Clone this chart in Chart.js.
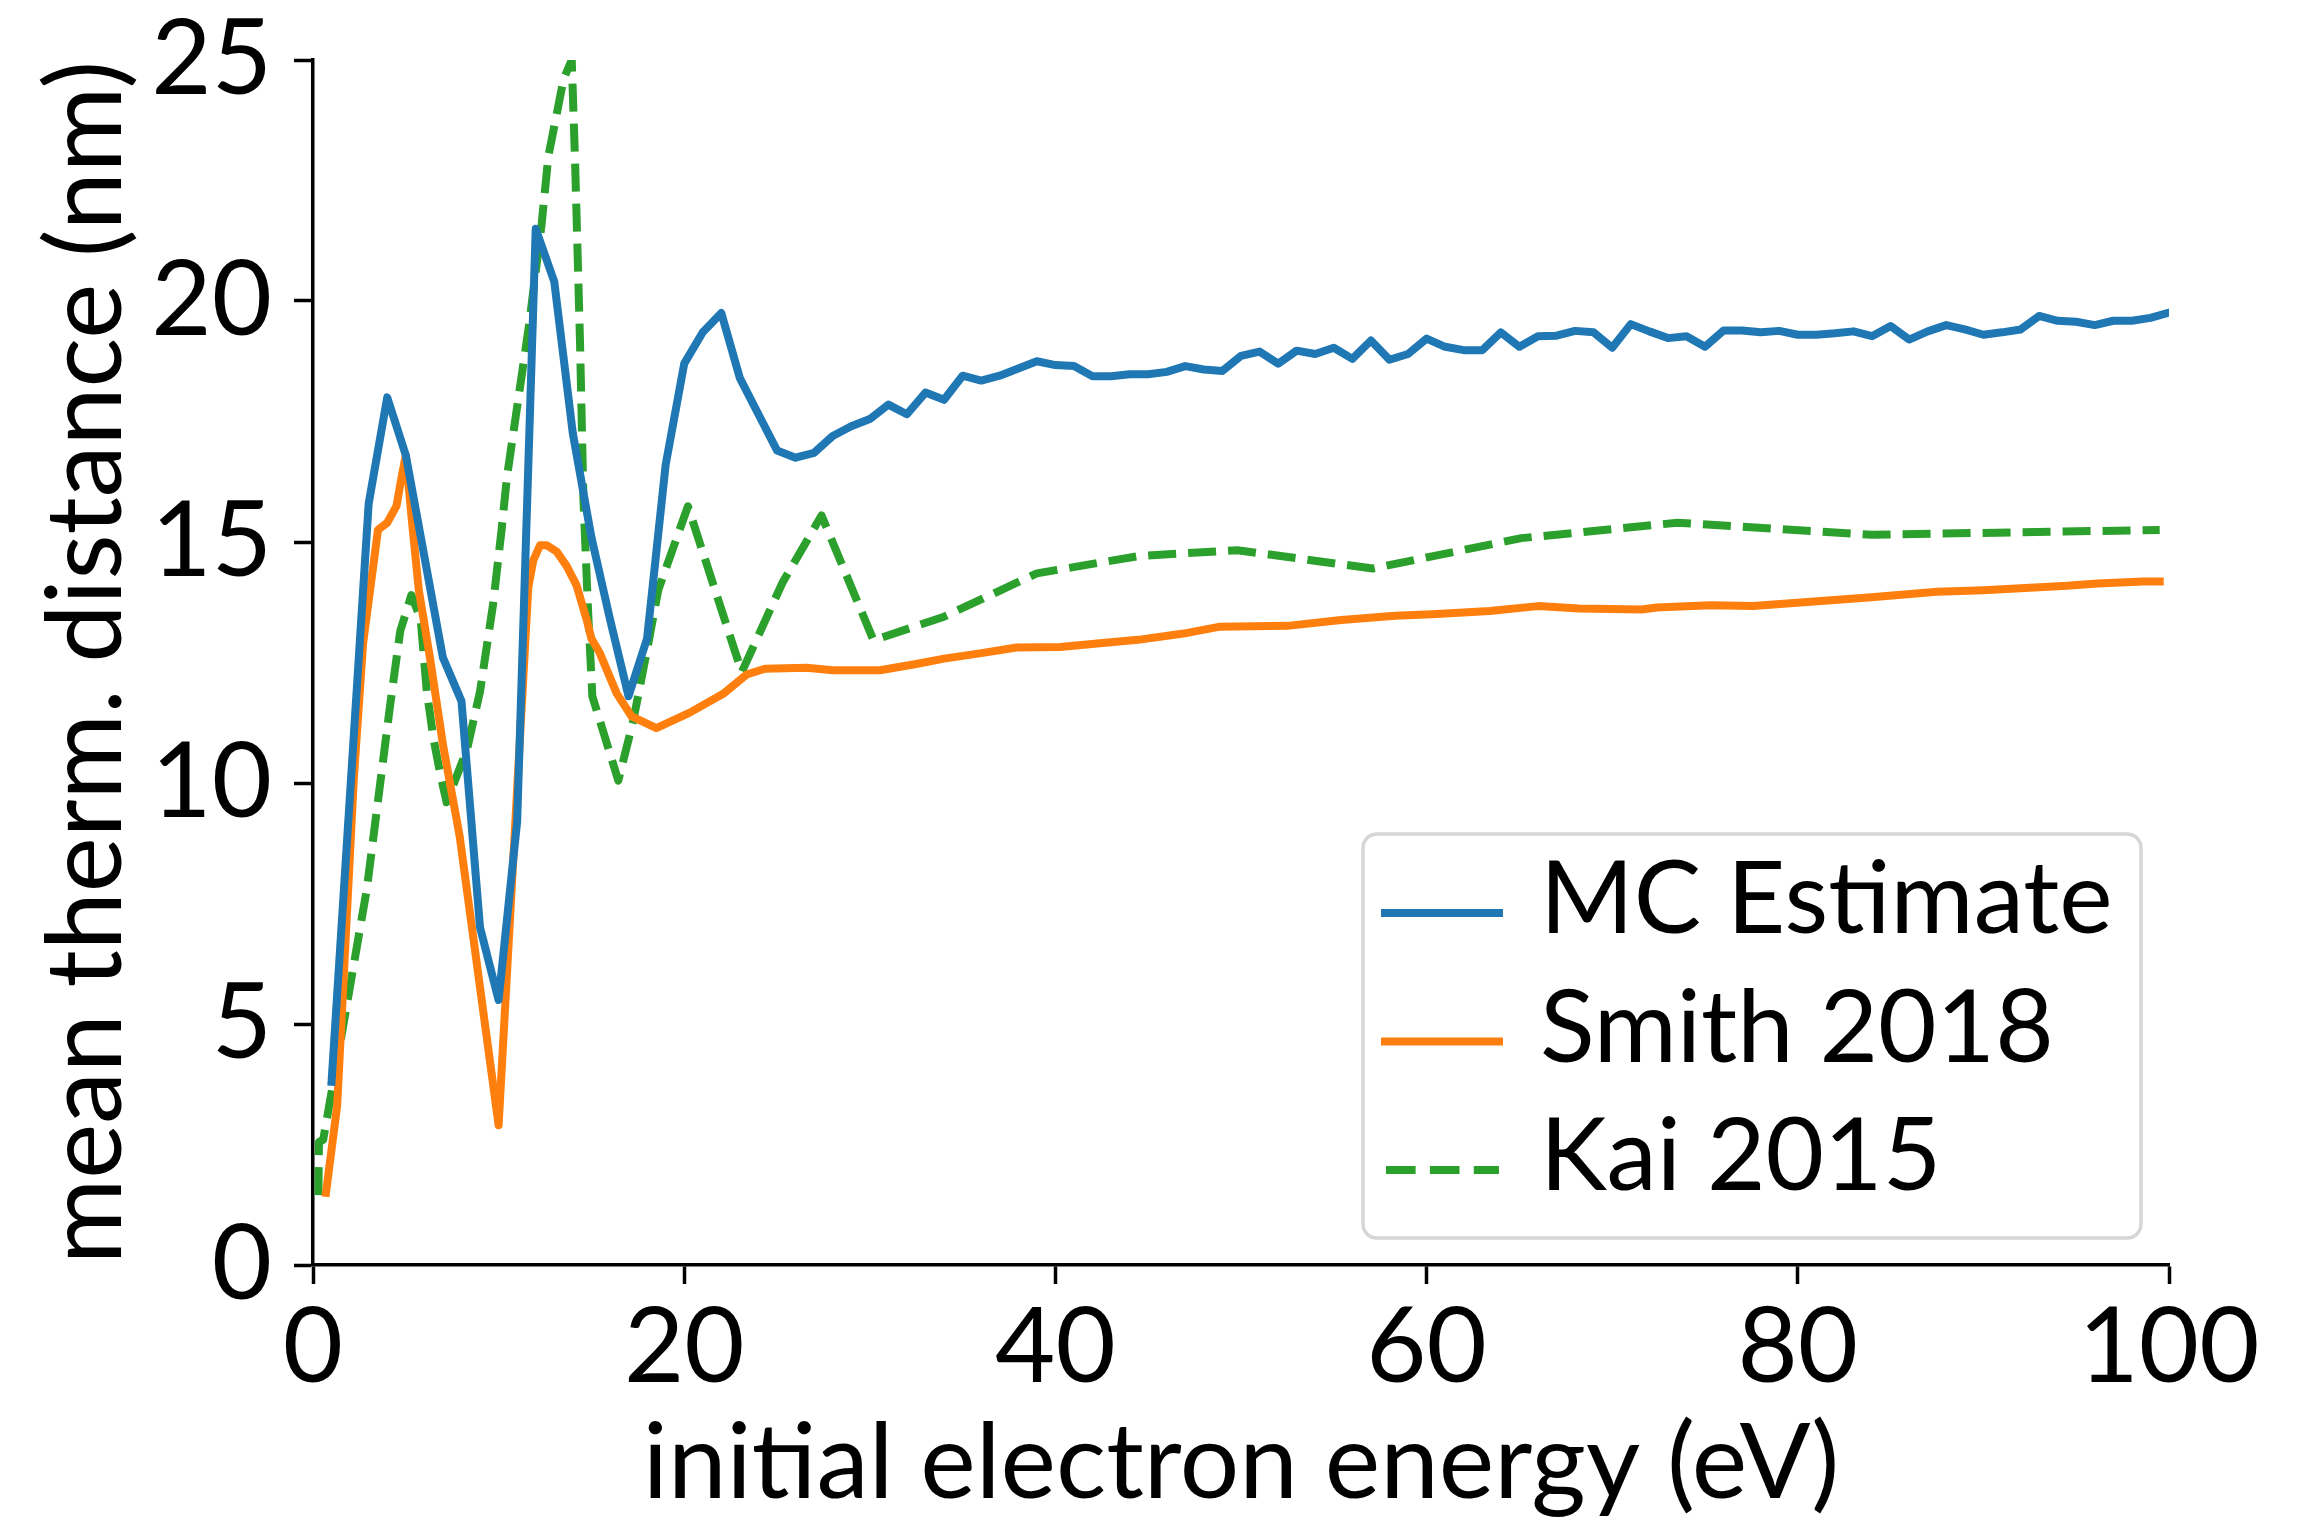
<!DOCTYPE html>
<html>
<head>
<meta charset="utf-8">
<script src="https://cdn.jsdelivr.net/npm/chart.js@4.4.0/dist/chart.umd.min.js"></script>
<style>
    html, body { margin: 0; padding: 0; background: #fff; }
    #wrap { width: 2304px; height: 1527px; }
</style>
</head>
<body>
<div id="wrap"><canvas id="thermChart" width="2304" height="1527"></canvas></div>
<script>
// MC Estimate（1 eV刻み）
const mcEnergy = [1, 2, 3, 4, 5, 6, 7, 8, 9, 10, 11, 12, 13, 14, 15, 16, 17, 18, 19, 20,
    21, 22, 23, 24, 25, 26, 27, 28, 29, 30, 31, 32, 33, 34, 35, 36, 37, 38, 39, 40,
    41, 42, 43, 44, 45, 46, 47, 48, 49, 50, 51, 52, 53, 54, 55, 56, 57, 58, 59, 60,
    61, 62, 63, 64, 65, 66, 67, 68, 69, 70, 71, 72, 73, 74, 75, 76, 77, 78, 79, 80,
    81, 82, 83, 84, 85, 86, 87, 88, 89, 90, 91, 92, 93, 94, 95, 96, 97, 98, 99, 100];
const mcDistance = [3.8, 9.8, 15.8, 18.0, 16.8, 14.7, 12.6, 11.7, 7.0, 5.5, 9.2, 21.5, 20.4, 17.25, 15.1, 13.4, 11.8, 13.0, 16.6, 18.7,
    19.35, 19.75, 18.4, 17.65, 16.9, 16.75, 16.85, 17.2, 17.4, 17.55, 17.85, 17.65, 18.1, 17.95, 18.45, 18.35, 18.45, 18.6, 18.75, 18.67,
    18.65, 18.44, 18.44, 18.48, 18.48, 18.53, 18.65, 18.58, 18.55, 18.86, 18.95, 18.7, 18.97, 18.9, 19.03, 18.8, 19.18, 18.78, 18.9, 19.22,
    19.05, 18.98, 18.98, 19.35, 19.05, 19.27, 19.28, 19.38, 19.35, 19.03, 19.52, 19.37, 19.23, 19.27, 19.05, 19.39, 19.39, 19.35, 19.38, 19.3,
    19.3, 19.33, 19.37, 19.27, 19.48, 19.2, 19.37, 19.5, 19.41, 19.3, 19.35, 19.41, 19.69, 19.59, 19.57, 19.5, 19.59, 19.59, 19.65, 19.76];

// Smith 2018
const smithEnergy = [0.7, 1.3, 2.2, 2.7, 3.5, 4.0, 4.5, 4.75, 5.0, 5.3, 5.7, 6.3, 7.0, 7.9, 10.0,
    11.6, 11.87, 12.23, 12.6, 13.13, 13.67, 14.2, 14.75, 15.0, 15.46, 16.36, 17.17, 18.5, 20.3, 22.1,
    23.36, 24.35, 26.6, 28.0, 30.55, 32.5, 34.0, 36.1, 37.9, 40.25, 42.4, 44.45, 46.9, 48.8, 52.5,
    55.4, 58.3, 60.3, 63.4, 66.0, 68.2, 71.6, 72.4, 75.3, 77.6, 79.6, 83.8, 87.5, 90.0, 94.5, 96.15, 98.6, 99.5];
const smithDistance = [1.5, 3.3, 10.1, 12.9, 15.25, 15.4, 15.75, 16.3, 16.8, 15.55, 14.0, 12.6, 10.8, 8.9, 2.9,
    14.06, 14.62, 14.93, 14.93, 14.8, 14.5, 14.1, 13.38, 13.0, 12.69, 11.86, 11.38, 11.14, 11.46, 11.85,
    12.25, 12.37, 12.39, 12.34, 12.34, 12.47, 12.58, 12.7, 12.81, 12.82, 12.9, 12.97, 13.1, 13.24, 13.26,
    13.38, 13.47, 13.5, 13.57, 13.67, 13.62, 13.6, 13.64, 13.69, 13.67, 13.73, 13.85, 13.97, 14.0, 14.09, 14.14, 14.18, 14.18];

// Kai 2015
const kaiEnergy = [0.29, 0.32, 0.55, 1.6, 2.9, 4.15, 4.7, 5.3, 5.8, 6.13, 6.5, 6.85, 7.2, 8.3, 9.0,
    9.7, 10.16, 10.45, 11.64, 12.32, 12.68, 13.5, 13.94, 14.12, 14.39, 14.57, 14.83, 15.05, 16.45, 17.26,
    18.07, 18.6, 20.2, 23.1, 25.3, 27.4, 30.2, 34.0, 39.0, 44.5, 49.8, 57.1, 65.1, 73.5, 84.0, 99.5];
const kaiDistance = [1.45, 2.55, 2.6, 4.9, 7.8, 11.6, 13.15, 13.9, 13.4, 11.9, 10.9, 10.2, 9.6, 10.7, 11.9,
    13.7, 15.25, 16.35, 19.5, 21.6, 23.0, 24.6, 25.0, 22.9, 19.1, 15.9, 13.5, 11.8, 10.05, 11.3,
    12.9, 14.0, 15.74, 12.3, 14.16, 15.55, 12.96, 13.45, 14.35, 14.71, 14.83, 14.45, 15.08, 15.4, 15.15, 15.25];

// 目盛り
const xTickValues = [0, 20, 40, 60, 80, 100];
const yTickValues = [0, 5, 10, 15, 20, 25];

const FONT = "Lato, 'Open Sans', sans-serif";
const LINE_W = 8;

function toPoints(xs, ys) {
    return xs.map((x, i) => ({ x: x, y: ys[i] }));
}

// 凡例（右下、枠付き）
const legendBox = {
    id: 'legendBox',
    afterDatasetsDraw(chart) {
        const ctx = chart.ctx;
        const area = chart.chartArea;
        const w = 778, h = 404;
        const x = area.right - 28 - w;
        const y = area.bottom - 27 - h;
        ctx.save();
        ctx.beginPath();
        ctx.roundRect(x, y, w, h, 14);
        ctx.fillStyle = 'rgba(255,255,255,0.85)';
        ctx.fill();
        ctx.lineWidth = 3.5;
        ctx.strokeStyle = '#d6d6d6';
        ctx.stroke();

        chart.data.datasets.forEach((ds, i) => {
            const ly = y + 79 + i * 128.5;
            const dashed = ds.borderDash.length > 0;
            ctx.beginPath();
            ctx.lineWidth = ds.borderWidth;
            ctx.strokeStyle = ds.borderColor;
            ctx.lineCap = dashed ? 'butt' : 'square';
            ctx.setLineDash(dashed ? [29.6, 14.3] : []);
            ctx.moveTo(x + (dashed ? 23 : 22), ly);
            ctx.lineTo(x + 136, ly);
            ctx.stroke();
            ctx.setLineDash([]);
            ctx.fillStyle = '#000';
            ctx.font = '101px ' + FONT;
            ctx.textAlign = 'left';
            ctx.textBaseline = 'alphabetic';
            ctx.fillText(ds.label, x + 177, ly + 20);
        });
        ctx.restore();
    }
};

const ctx = document.getElementById('thermChart').getContext('2d');
const thermChart = new Chart(ctx, {
    type: 'line',
    data: {
        datasets: [{
            label: 'MC Estimate',
            data: toPoints(mcEnergy, mcDistance),
            borderColor: '#1f77b4',
            borderWidth: LINE_W,
            borderDash: [],
            borderCapStyle: 'square',
            borderJoinStyle: 'round',
            pointRadius: 0,
            tension: 0,
            fill: false
        }, {
            label: 'Smith 2018',
            data: toPoints(smithEnergy, smithDistance),
            borderColor: '#ff7f0e',
            borderWidth: LINE_W,
            borderDash: [],
            borderCapStyle: 'square',
            borderJoinStyle: 'round',
            pointRadius: 0,
            tension: 0,
            fill: false
        }, {
            label: 'Kai 2015',
            data: toPoints(kaiEnergy, kaiDistance),
            borderColor: '#2ca02c',
            borderWidth: LINE_W,
            borderDash: [28, 12],
            borderCapStyle: 'butt',
            borderJoinStyle: 'round',
            pointRadius: 0,
            tension: 0,
            fill: false
        }]
    },
    options: {
        responsive: false,
        animation: false,
        devicePixelRatio: 1,
        layout: { padding: { top: 60, right: 135, left: 0, bottom: 0 } },
        plugins: {
            legend: { display: false },
            tooltip: { enabled: false }
        },
        scales: {
            x: {
                type: 'linear',
                min: 0,
                max: 100,
                afterBuildTicks: (scale) => { scale.ticks = xTickValues.map(v => ({ value: v })); },
                afterFit: (scale) => { scale.height = 262; },
                grid: { display: true, drawOnChartArea: false, drawTicks: true, tickLength: 19, tickWidth: 3.5, tickColor: '#000' },
                border: { display: true, color: '#000', width: 3.5 },
                ticks: { color: '#000', padding: 2, maxRotation: 0, font: { family: FONT, size: 104 } },
                title: {
                    display: true,
                    text: 'initial electron energy (eV)',
                    color: '#000',
                    font: { family: FONT, size: 105 },
                    padding: { top: 0, bottom: 0 }
                }
            },
            y: {
                type: 'linear',
                min: 0,
                max: 25,
                afterBuildTicks: (scale) => { scale.ticks = yTickValues.map(v => ({ value: v })); },
                afterFit: (scale) => { scale.width = 313; },
                grid: { display: true, drawOnChartArea: false, drawTicks: true, tickLength: 19, tickWidth: 3.5, tickColor: '#000' },
                border: { display: true, color: '#000', width: 3.5 },
                // lineHeightを小さくして上端の余白が増えないようにする
                ticks: { color: '#000', padding: 22, font: { family: FONT, size: 104, lineHeight: 0.7 } },
                title: {
                    display: true,
                    text: 'mean therm. distance (nm)',
                    color: '#000',
                    font: { family: FONT, size: 104 },
                    padding: { top: 25, bottom: 0 }
                }
            }
        }
    },
    plugins: [legendBox]
});
</script>
</body>
</html>
